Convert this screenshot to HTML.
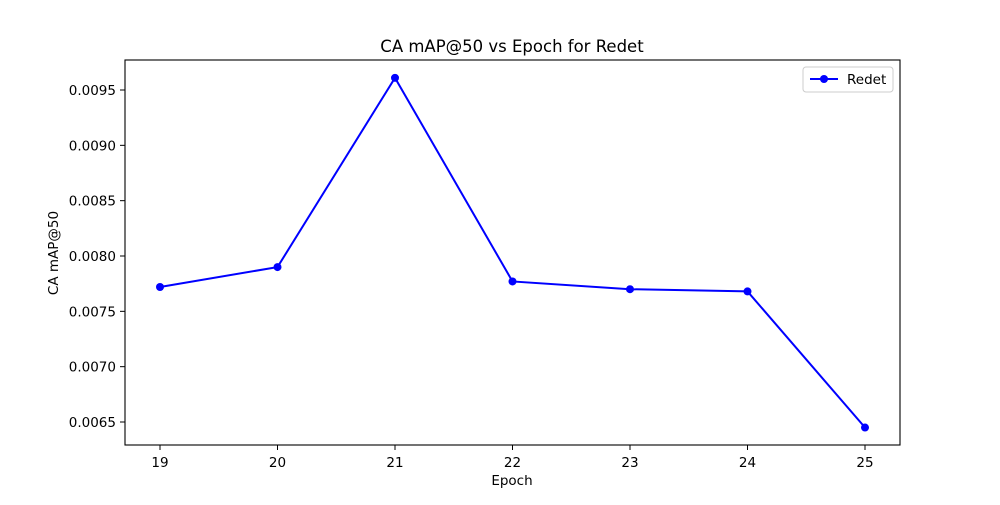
<!DOCTYPE html>
<html><head><meta charset="utf-8"><style>
body{margin:0;background:#fff;}
svg text{font-family:"DejaVu Sans","Liberation Sans",sans-serif;fill:#000;}
</style></head><body>
<svg id="chart" width="1000" height="500" xmlns="http://www.w3.org/2000/svg">
<rect x="0" y="0" width="1000" height="500" fill="#fff"/>
<text x="512" y="52" font-size="16.5" text-anchor="middle">CA mAP@50 vs Epoch for Redet</text>
<text x="512" y="485" font-size="13.5" text-anchor="middle">Epoch</text>
<text transform="translate(58,253) rotate(-90)" font-size="13.5" text-anchor="middle">CA mAP@50</text>
<g id="axes"></g>
<rect x="125" y="60" width="775" height="385" fill="none" stroke="#000" stroke-width="1.1"/>
<g>
<rect x="803" y="67" width="90" height="25" rx="3" fill="#fff" stroke="#ccc"/>
<line x1="810" y1="79" x2="838" y2="79" stroke="#0000ff" stroke-width="2"/>
<circle cx="824" cy="79" r="4" fill="#0000ff"/>
<text x="847" y="84" font-size="13.5">Redet</text>
</g>
</svg>
<script>
const epochs=[19,20,21,22,23,24,25];
const values=[0.00772,0.00790,0.00961,0.00777,0.00770,0.00768,0.00645];
const yTicks=[0.0065,0.0070,0.0075,0.0080,0.0085,0.0090,0.0095];
const yTickLabels=["0.0065","0.0070","0.0075","0.0080","0.0085","0.0090","0.0095"];
const NS="http://www.w3.org/2000/svg";
function xs(e){return 160+(e-19)*117.5;}
function ys(v){return 90+(0.0095-v)*110666.7;}
const g=document.getElementById('axes');
function mk(t,a){const el=document.createElementNS(NS,t);for(const k in a)el.setAttribute(k,a[k]);return el;}
epochs.forEach(e=>{
 const l=mk('line',{x1:xs(e),x2:xs(e),y1:445,y2:450,stroke:'#000'});
 
 
 g.appendChild(l);
 const t=mk('text',{x:xs(e),y:467,'font-size':13.5,'text-anchor':'middle'});
 t.textContent=e;
 
 
 g.appendChild(t);
});
yTicks.forEach((v,i)=>{
 const l=mk('line',{x1:120,x2:125,y1:ys(v),y2:ys(v),stroke:'#000'});
 
 
 g.appendChild(l);
 const t=mk('text',{x:116,y:ys(v)+5,'font-size':13.5,'text-anchor':'end'});
 t.textContent=yTickLabels[i];
 
 
 g.appendChild(t);
});
const pts=epochs.map((e,i)=>xs(e)+','+ys(values[i])).join(' ');
const pl=mk('polyline',{points:pts,fill:'none',stroke:'#0000ff','stroke-width':2});


g.appendChild(pl);
epochs.forEach((e,i)=>{
 const c=mk('circle',{cx:xs(e),cy:ys(values[i]),r:4,fill:'#0000ff'});
 
 
 g.appendChild(c);
});
</script>
</body></html>
